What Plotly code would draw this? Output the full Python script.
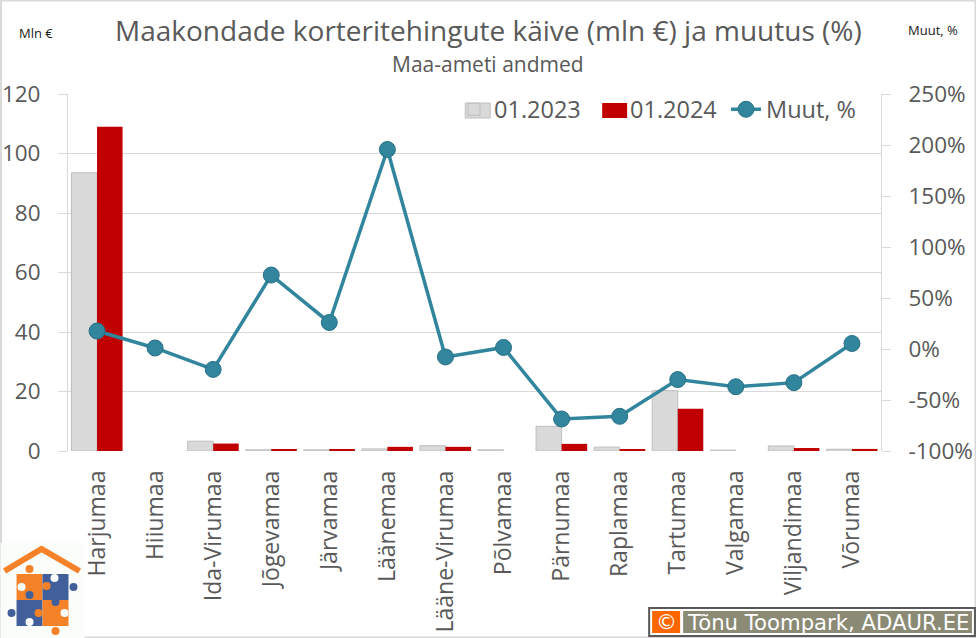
import plotly.graph_objects as go
from plotly.subplots import make_subplots

W, H = 976, 638
PLOT_L, PLOT_R, PLOT_T, PLOT_B = 67.5, 881, 94, 451

maakonnad = ["Harjumaa", "Hiiumaa", "Ida-Virumaa", "Jõgevamaa", "Järvamaa", "Läänemaa",
             "Lääne-Virumaa", "Põlvamaa", "Pärnumaa", "Raplamaa", "Tartumaa", "Valgamaa",
             "Viljandimaa", "Võrumaa"]
kaive_2023 = [93.5, None, 3.3, 0.4, 0.4, 0.7, 1.8, 0.4, 8.3, 1.3, 20.3, 0.3, 1.7, 0.6]
kaive_2024 = [109, None, 2.5, 0.4, 0.4, 1.4, 1.4, None, 2.4, 0.4, 14.2, None, 1.0, 0.7]
muutus = [17.6, 1, -20, 72.5, 26, 195.6, -7.8, 1.5, -68.6, -66, -30, -37, -33, 5.4]
vasak_ticks = [0, 20, 40, 60, 80, 100, 120]
parem_ticks = [-100, -50, 0, 50, 100, 150, 200, 250]
parem_labels = ["-100%", "-50%", "0%", "50%", "100%", "150%", "200%", "250%"]

GREY = "#595959"
GRID = "#D9D9D9"
TEAL = "#31859C"
ORANGE = "#F58229"
BLUE = "#41609B"
LOGO_BG = "#FBFDFB"


# paper coordinates run over the plot area, so convert from picture pixels
def px(x):
    return (x - PLOT_L) / (PLOT_R - PLOT_L)


def py(y):
    return (PLOT_B - y) / (PLOT_B - PLOT_T)


def rect(x0, y0, x1, y1, fill, line=None, width=0):
    return dict(type="rect", xref="paper", yref="paper", x0=px(x0), x1=px(x1), y0=py(y0), y1=py(y1),
                fillcolor=fill, line=dict(color=line or fill, width=width), layer="above")


def dot(cx, cy, r, fill):
    return dict(type="circle", xref="paper", yref="paper", x0=px(cx - r), x1=px(cx + r),
                y0=py(cy - r), y1=py(cy + r), fillcolor=fill, line=dict(width=0), layer="above")


def label(x, y, text, size, color=GREY, family="Open Sans", anchor="center"):
    return dict(xref="paper", yref="paper", x=px(x), y=py(y), text=text, showarrow=False,
                xanchor=anchor, yanchor="middle", font=dict(size=size, color=color, family=family))


fig = make_subplots(specs=[[{"secondary_y": True}]])
fig.add_trace(go.Bar(x=maakonnad, y=kaive_2023, name="01.2023",
                     marker=dict(color="#D9D9D9", line=dict(color="#BFBFBF", width=1))), secondary_y=False)
fig.add_trace(go.Bar(x=maakonnad, y=kaive_2024, name="01.2024",
                     marker=dict(color="#C00000", line=dict(width=0))), secondary_y=False)
fig.add_trace(go.Scatter(x=maakonnad, y=muutus, name="Muut, %", mode="lines+markers",
                         line=dict(color=TEAL, width=3.5),
                         marker=dict(color=TEAL, size=16, line=dict(color="#2A7186", width=1))),
              secondary_y=True)

shapes = [
    # outer frame of the picture
    dict(type="rect", xref="paper", yref="paper", x0=px(0.5), x1=px(975.5), y0=py(637.5), y1=py(0.5),
         line=dict(color=GRID, width=2), layer="below"),
    # logo
    rect(0, 543, 84, 638, LOGO_BG),
    dict(type="path", xref="paper", yref="paper", layer="above",
         path=f"M {px(4)} {py(571)} L {px(41)} {py(549)} L {px(79)} {py(571)}",
         line=dict(color=ORANGE, width=6)),
    rect(16, 574, 42, 600, ORANGE), rect(42, 574, 68, 600, BLUE),
    rect(16, 600, 42, 626, BLUE), rect(42, 600, 68, 626, ORANGE),
    dot(29, 569, 4, ORANGE), dot(54, 578, 4, LOGO_BG), dot(73, 587, 4, BLUE),
    dot(21, 587, 4, LOGO_BG), dot(46, 586, 4, ORANGE), dot(29, 595, 4, BLUE),
    dot(55, 602, 4, BLUE), dot(64, 613, 4, LOGO_BG), dot(38, 613, 4, ORANGE),
    dot(11, 613, 4, BLUE), dot(29, 622, 4, LOGO_BG), dot(55, 631, 4, ORANGE),
    # copyright box
    rect(649, 608, 975, 636, "#FFFFFF", GREY, 2),
    rect(652, 611, 680, 633, "#FF6600"),
    rect(683, 611, 972, 633, "#8A8A75"),
    # plotly's bar swatches are small, cover them with the wider ones of the reference
    rect(465, 103, 490, 118, "#D9D9D9", "#BFBFBF", 1),
    rect(602, 103, 627, 118, "#C00000"),
]

annotations = [
    label(488, 30, "Maakondade korteritehingute käive (mln €) ja muutus (%)", 28),
    label(488, 64, "Maa-ameti andmed", 21),
    label(35.5, 33, "Mln €", 13, "#1A1A1A"),
    label(933, 30, "Muut, %", 13, "#1A1A1A"),
    label(666, 622, "©", 21, "#FFFFFF", "DejaVu Sans"),
    label(685, 622, "Tõnu Toompark, ADAUR.EE", 21.2, "#FFFFFF", "DejaVu Sans", "left"),
]

fig.update_layout(
    width=W, height=H, autosize=False,
    margin=dict(l=PLOT_L, r=W - PLOT_R, t=PLOT_T, b=H - PLOT_B, pad=0),
    paper_bgcolor="white", plot_bgcolor="white",
    font=dict(family="Open Sans", color=GREY),
    barmode="group", bargap=0.12, bargroupgap=0,
    showlegend=True,
    legend=dict(orientation="h", x=px(862), y=py(87.5), xanchor="right", yanchor="top",
                font=dict(size=23.5, color=GREY), bgcolor="rgba(0,0,0,0)",
                itemwidth=30, tracegroupgap=0, entrywidth=91, entrywidthmode="pixels"),
    shapes=shapes, annotations=annotations,
)
# make_subplots leaves room for the second axis, the axis should fill the plot area
fig.update_xaxes(domain=[0, 1], type="category", categoryorder="array", categoryarray=maakonnad,
                 range=[-0.5, 13.5], tickangle=-90, tickfont=dict(size=23, color=GREY), ticks="",
                 ticklabelstandoff=14, showline=False, showgrid=False, automargin=False)
fig.update_yaxes(range=[0, 120], tickvals=vasak_ticks, tickfont=dict(size=22.5, color=GREY),
                 showgrid=True, gridcolor=GRID, gridwidth=1, zeroline=False,
                 showline=True, linecolor=GRID, linewidth=1, ticklabelstandoff=13,
                 ticks="outside", ticklen=9, tickcolor=GRID, automargin=False, secondary_y=False)
fig.update_yaxes(range=[-100, 250], tickvals=parem_ticks, ticktext=parem_labels,
                 tickfont=dict(size=22.5, color=GREY),
                 showgrid=False, zeroline=False, showline=True, linecolor=GRID, linewidth=1,
                 ticklabelstandoff=13,
                 ticks="outside", ticklen=9, tickcolor=GRID, automargin=False, secondary_y=True)

fig.write_html("out.html", config=dict(displayModeBar=False),
               post_script="document.body.style.margin='0';document.body.style.overflow='hidden';")
